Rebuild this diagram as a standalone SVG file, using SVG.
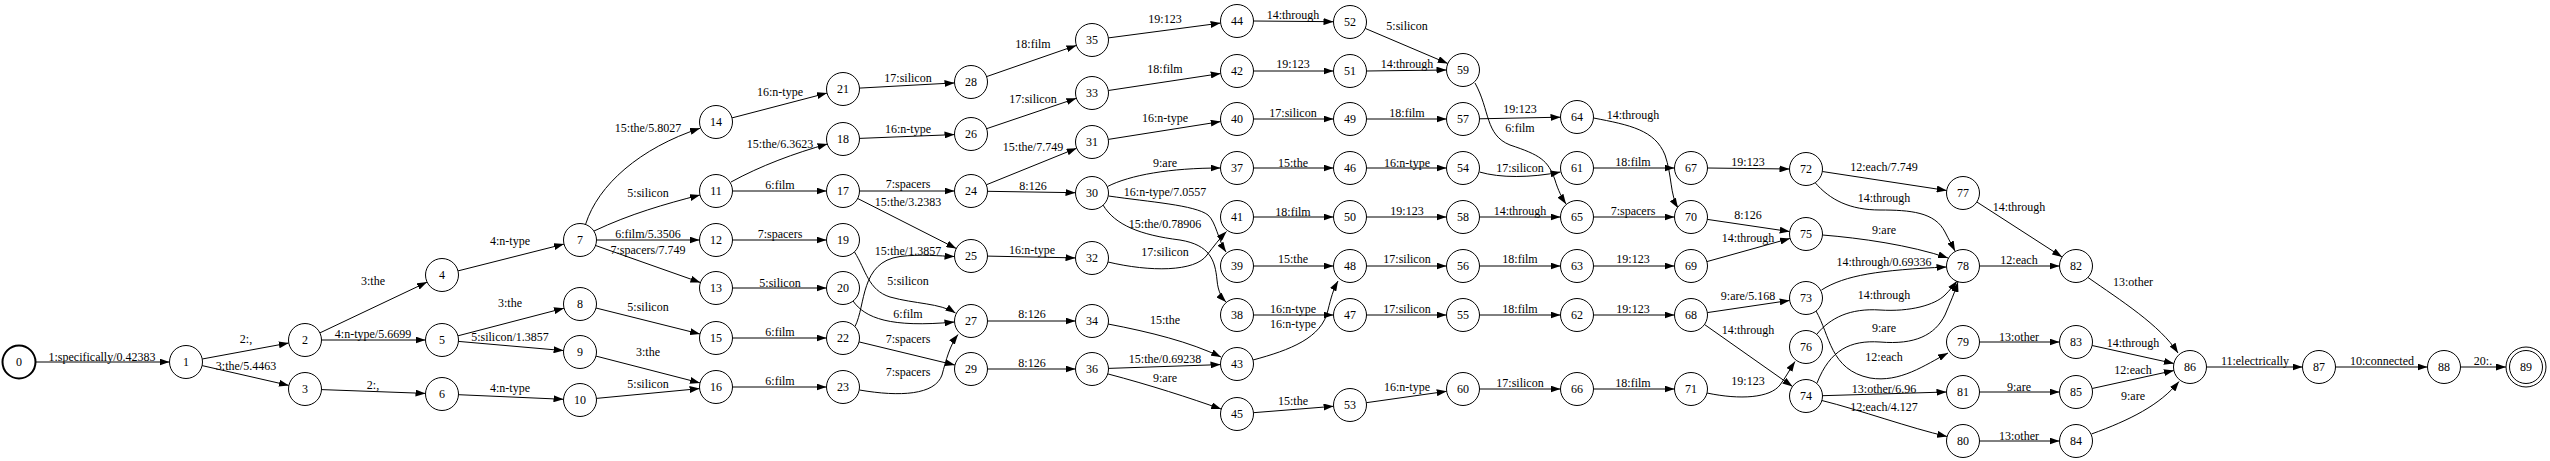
<svg xmlns="http://www.w3.org/2000/svg" width="2550" height="461" viewBox="0 0 2550 461">
<defs>
<marker id="a" markerWidth="10" markerHeight="7" refX="10" refY="3.5" orient="auto" markerUnits="userSpaceOnUse"><path d="M0,0 L10,3.5 L0,7 Z" fill="#000"/></marker>
<style>
text{font-family:"Liberation Serif","Times New Roman",serif;font-size:12px;fill:#000;text-anchor:middle}
.node circle{fill:#fff;stroke:#000;stroke-width:1}
#edges path{fill:none;stroke:#000;stroke-width:1;marker-end:url(#a)}
</style>
</defs>
<rect width="2550" height="461" fill="#fff"/>
<g id="edges">
<g><path d="M35.5,362 L169.5,362"/><text x="102" y="361">1:specifically/0.42383</text></g>
<g><path d="M202.2,359 L288.8,343"/><text x="246" y="343">2:,</text></g>
<g><path d="M202.1,365.6 L288.9,385.4"/><text x="246" y="370">3:the/5.4463</text></g>
<g><path d="M319.9,332.9 L427.1,282.1"/><text x="373" y="285">3:the</text></g>
<g><path d="M321.5,340 L425.5,340"/><text x="373" y="338">4:n-type/5.6699</text></g>
<g><path d="M321.5,389.6 L425.5,393.4"/><text x="373" y="389">2:,</text></g>
<g><path d="M458,270.9 L564,244.1"/><text x="510" y="245">4:n-type</text></g>
<g><path d="M458,335.8 L564,308.2"/><text x="510" y="307">3:the</text></g>
<g><path d="M458.4,341.4 L563.6,350.6"/><text x="510" y="341">5:silicon/1.3857</text></g>
<g><path d="M458.5,394.7 L563.5,399.3"/><text x="510" y="392">4:n-type</text></g>
<g><path d="M585.7,224 C598,185 640,148 700,128.3"/><text x="648" y="132">15:the/5.8027</text></g>
<g><path d="M594,231 C630,214 665,204 700,195"/><text x="648" y="197">5:silicon</text></g>
<g><path d="M596.5,240 L699.5,240"/><text x="648" y="238">6:film/5.3506</text></g>
<g><path d="M595.6,245.5 L700.4,282.5"/><text x="648" y="254">7:spacers/7.749</text></g>
<g><path d="M596,308 L700,334"/><text x="648" y="311">5:silicon</text></g>
<g><path d="M596,356.1 L700,382.9"/><text x="648" y="356">3:the</text></g>
<g><path d="M596.4,398.4 L699.6,388.6"/><text x="648" y="388">5:silicon</text></g>
<g><path d="M731,182 C760,166 795,153 827.5,144"/><text x="780" y="148">15:the/6.3623</text></g>
<g><path d="M732.5,191 L826.5,191"/><text x="780" y="189">6:film</text></g>
<g><path d="M732.5,240 L826.5,240"/><text x="780" y="238">7:spacers</text></g>
<g><path d="M732.5,288 L826.5,288"/><text x="780" y="287">5:silicon</text></g>
<g><path d="M732,117.9 L827,93.1"/><text x="780" y="96">16:n-type</text></g>
<g><path d="M732.5,338 L826.5,338"/><text x="780" y="336">6:film</text></g>
<g><path d="M732.5,387 L826.5,387"/><text x="780" y="385">6:film</text></g>
<g><path d="M859.5,191 L954.5,191"/><text x="908" y="188">7:spacers</text></g>
<g><path d="M857.7,198.5 L956.3,248.5"/><text x="908" y="206">15:the/3.2383</text></g>
<g><path d="M859.5,138.4 L954.5,134.6"/><text x="908" y="133">16:n-type</text></g>
<g><path d="M854.5,252 C866,270 868,290 890,297 C915,304 940,303 955.5,313"/><text x="908" y="285">5:silicon</text></g>
<g><path d="M853,301 C865,318 890,328 954.5,322"/><text x="908" y="318">6:film</text></g>
<g><path d="M855,326.5 C866,305 860,262 900,256.5 C920,254 940,256 954.5,256.5"/><text x="908" y="255">15:the/1.3857</text></g>
<g><path d="M859,341.9 L955,365.1"/><text x="908" y="343">7:spacers</text></g>
<g><path d="M859.5,390 C900,397 935,395 942,375 C946,360 950,345 958,334.5"/><text x="908" y="376">7:spacers</text></g>
<g><path d="M859.5,88.1 L954.5,82.9"/><text x="908" y="82">17:silicon</text></g>
<g><path d="M986.3,184.8 L1076.7,148.2"/><text x="1033" y="151">15:the/7.749</text></g>
<g><path d="M987.5,191.3 L1075.5,192.7"/><text x="1033" y="190">8:126</text></g>
<g><path d="M987.5,256.1 L1075.5,257.9"/><text x="1032" y="254">16:n-type</text></g>
<g><path d="M986.6,128.7 L1076.4,98.3"/><text x="1033" y="103">17:silicon</text></g>
<g><path d="M987.5,321 L1075.5,321"/><text x="1032" y="318">8:126</text></g>
<g><path d="M986.6,76.6 L1076.4,45.4"/><text x="1033" y="48">18:film</text></g>
<g><path d="M987.5,369 L1075.5,369"/><text x="1032" y="367">8:126</text></g>
<g><path d="M1107.5,186.5 C1130,175 1170,168 1220.5,168"/><text x="1165" y="167">9:are</text></g>
<g><path d="M1108.5,196 C1150,202 1195,205 1208,215 C1216,222 1218,240 1226,252"/><text x="1165" y="196">16:n-type/7.0557</text></g>
<g><path d="M1103,205 C1115,225 1140,235 1180,240 C1210,245 1215,260 1217,280 C1218,292 1222,298 1226,302"/><text x="1165" y="228">15:the/0.78906</text></g>
<g><path d="M1108.3,139.4 L1220.7,121.6"/><text x="1165" y="122">16:n-type</text></g>
<g><path d="M1108,262 C1150,272 1195,272 1207,255 C1214,246 1220,238 1226.5,231.5"/><text x="1165" y="256">17:silicon</text></g>
<g><path d="M1108.3,90.5 L1220.7,73.5"/><text x="1165" y="73">18:film</text></g>
<g><path d="M1108,324 C1150,332 1190,342 1221,357"/><text x="1165" y="324">15:the</text></g>
<g><path d="M1108.4,37.9 L1220.6,23.1"/><text x="1165" y="23">19:123</text></g>
<g><path d="M1108.5,368.4 L1220.5,364.6"/><text x="1165" y="363">15:the/0.69238</text></g>
<g><path d="M1107.8,373.9 C1150,385 1190,398 1221.2,409.1"/><text x="1165" y="382">9:are</text></g>
<g><path d="M1253.5,168 L1333.5,168"/><text x="1293" y="167">15:the</text></g>
<g><path d="M1253.5,315 L1333.5,315"/><text x="1293" y="313">16:n-type</text></g>
<g><path d="M1253.5,266 L1333.5,266"/><text x="1293" y="263">15:the</text></g>
<g><path d="M1253.5,119 L1333.5,119"/><text x="1293" y="117">17:silicon</text></g>
<g><path d="M1253.5,217 L1333.5,217"/><text x="1293" y="216">18:film</text></g>
<g><path d="M1253.5,71 L1333.5,71"/><text x="1293" y="68">19:123</text></g>
<g><path d="M1253,360 C1290,350 1322,338 1328,310 C1331,298 1333,290 1338,281"/><text x="1293" y="328">16:n-type</text></g>
<g><path d="M1253.5,21 L1333.5,21.7"/><text x="1293" y="19">14:through</text></g>
<g><path d="M1253.4,412.7 L1333.6,406.3"/><text x="1293" y="405">15:the</text></g>
<g><path d="M1366.5,168 L1446.5,168"/><text x="1407" y="167">16:n-type</text></g>
<g><path d="M1366.5,315 L1446.5,315"/><text x="1407" y="313">17:silicon</text></g>
<g><path d="M1366.5,266 L1446.5,266"/><text x="1407" y="263">17:silicon</text></g>
<g><path d="M1366.5,119 L1446.5,119"/><text x="1407" y="117">18:film</text></g>
<g><path d="M1366.5,217 L1446.5,217"/><text x="1407" y="215">19:123</text></g>
<g><path d="M1366.5,71 L1446.5,70"/><text x="1407" y="68">14:through</text></g>
<g><path d="M1365.2,28.4 L1447.8,63.5"/><text x="1407" y="30">5:silicon</text></g>
<g><path d="M1366.3,402.7 L1446.7,391.3"/><text x="1407" y="391">16:n-type</text></g>
<g><path d="M1479.5,172 C1500,178 1530,178 1560.5,172"/><text x="1520" y="172">17:silicon</text></g>
<g><path d="M1479.5,315 L1560.5,315"/><text x="1520" y="313">18:film</text></g>
<g><path d="M1479.5,266 L1560.5,266"/><text x="1520" y="263">18:film</text></g>
<g><path d="M1479.5,118.8 L1560.5,117.2"/><text x="1520" y="113">19:123</text></g>
<g><path d="M1479.5,217 L1560.5,217"/><text x="1520" y="215">14:through</text></g>
<g><path d="M1475,83 C1490,110 1485,135 1510,145 C1540,155 1548,160 1555,180 C1558,190 1562,198 1566,204"/><text x="1520" y="132">6:film</text></g>
<g><path d="M1479.5,389 L1560.5,389"/><text x="1520" y="387">17:silicon</text></g>
<g><path d="M1593.5,168 L1674.5,168"/><text x="1633" y="166">18:film</text></g>
<g><path d="M1593.5,315 L1674.5,315"/><text x="1633" y="313">19:123</text></g>
<g><path d="M1593.5,266 L1674.5,266"/><text x="1633" y="263">19:123</text></g>
<g><path d="M1593.5,118 C1630,125 1655,130 1665,155 C1672,175 1670,195 1678,208"/><text x="1633" y="119">14:through</text></g>
<g><path d="M1593.5,217 L1674.5,217"/><text x="1633" y="215">7:spacers</text></g>
<g><path d="M1593.5,389 L1674.5,389"/><text x="1633" y="387">18:film</text></g>
<g><path d="M1707.5,168 L1789.5,169"/><text x="1748" y="166">19:123</text></g>
<g><path d="M1707.3,219.4 L1789.7,231.6"/><text x="1748" y="219">8:126</text></g>
<g><path d="M1706.9,261.6 L1790.1,238.4"/><text x="1748" y="242">14:through</text></g>
<g><path d="M1707.3,312.6 L1789.7,300.4"/><text x="1748" y="300">9:are/5.168</text></g>
<g><path d="M1704.5,324.5 L1792.5,386.5"/><text x="1748" y="334">14:through</text></g>
<g><path d="M1707,393 C1740,400 1770,398 1780,385 C1786,377 1790,369 1795,361.5"/><text x="1748" y="385">19:123</text></g>
<g><path d="M1822.3,171.5 L1946.7,190.5"/><text x="1884" y="171">12:each/7.749</text></g>
<g><path d="M1815,182.5 C1830,200 1850,210 1880,210 C1910,210 1935,212 1945,232 C1949,240 1952,245 1955,251"/><text x="1884" y="202">14:through</text></g>
<g><path d="M1822.5,235 C1860,238 1910,245 1948,258"/><text x="1884" y="234">9:are</text></g>
<g><path d="M1821.5,290 C1845,275 1880,270 1946.5,267"/><text x="1884" y="266">14:through/0.69336</text></g>
<g><path d="M1817,334 C1830,318 1850,308 1880,310 C1910,312 1935,305 1945,295 C1950,290 1954,285 1957,281"/><text x="1884" y="299">14:through</text></g>
<g><path d="M1817,383 C1830,350 1850,340 1880,342 C1915,345 1935,335 1945,315 C1950,303 1955,292 1958,282"/><text x="1884" y="332">9:are</text></g>
<g><path d="M1816,311 C1830,335 1830,370 1870,378 C1900,383 1925,365 1948,353"/><text x="1884" y="361">12:each</text></g>
<g><path d="M1822.5,395.7 L1946.5,392"/><text x="1884" y="393">13:other/6.96</text></g>
<g><path d="M1821.9,400.5 C1860,410 1910,428 1947.1,436.5"/><text x="1884" y="411">12:each/4.127</text></g>
<g><path d="M1976.9,202 L2062.1,257"/><text x="2019" y="211">14:through</text></g>
<g><path d="M1979.5,266 L2059.5,266"/><text x="2019" y="264">12:each</text></g>
<g><path d="M1979.5,342 L2059.5,342"/><text x="2019" y="341">13:other</text></g>
<g><path d="M1979.5,392 L2059.5,392"/><text x="2019" y="391">9:are</text></g>
<g><path d="M1979.5,441 L2059.5,441"/><text x="2019" y="440">13:other</text></g>
<g><path d="M2088,277.5 C2120,300 2160,325 2178,353"/><text x="2133" y="286">13:other</text></g>
<g><path d="M2092.1,345.5 L2173.9,363.5"/><text x="2133" y="347">14:through</text></g>
<g><path d="M2092.1,388.5 L2173.9,370.5"/><text x="2133" y="374">12:each</text></g>
<g><path d="M2091.5,434 C2130,420 2160,405 2179,381.5"/><text x="2133" y="400">9:are</text></g>
<g><path d="M2206.5,367 L2302.5,367"/><text x="2255" y="365">11:electrically</text></g>
<g><path d="M2335.5,367 L2427.5,367"/><text x="2382" y="365">10:connected</text></g>
<g><path d="M2460.5,367 L2506,367"/><text x="2483" y="365">20:.</text></g>
</g>
<g id="nodes">
<g id="n0" class="node"><circle cx="19" cy="362" r="16.5" style="stroke-width:2"/><text x="19" y="366">0</text></g>
<g id="n1" class="node"><circle cx="186" cy="362" r="16.5"/><text x="186" y="366">1</text></g>
<g id="n2" class="node"><circle cx="305" cy="340" r="16.5"/><text x="305" y="344">2</text></g>
<g id="n3" class="node"><circle cx="305" cy="389" r="16.5"/><text x="305" y="393">3</text></g>
<g id="n4" class="node"><circle cx="442" cy="275" r="16.5"/><text x="442" y="279">4</text></g>
<g id="n5" class="node"><circle cx="442" cy="340" r="16.5"/><text x="442" y="344">5</text></g>
<g id="n6" class="node"><circle cx="442" cy="394" r="16.5"/><text x="442" y="398">6</text></g>
<g id="n7" class="node"><circle cx="580" cy="240" r="16.5"/><text x="580" y="244">7</text></g>
<g id="n8" class="node"><circle cx="580" cy="304" r="16.5"/><text x="580" y="308">8</text></g>
<g id="n9" class="node"><circle cx="580" cy="352" r="16.5"/><text x="580" y="356">9</text></g>
<g id="n10" class="node"><circle cx="580" cy="400" r="16.5"/><text x="580" y="404">10</text></g>
<g id="n11" class="node"><circle cx="716" cy="191" r="16.5"/><text x="716" y="195">11</text></g>
<g id="n12" class="node"><circle cx="716" cy="240" r="16.5"/><text x="716" y="244">12</text></g>
<g id="n13" class="node"><circle cx="716" cy="288" r="16.5"/><text x="716" y="292">13</text></g>
<g id="n14" class="node"><circle cx="716" cy="122" r="16.5"/><text x="716" y="126">14</text></g>
<g id="n15" class="node"><circle cx="716" cy="338" r="16.5"/><text x="716" y="342">15</text></g>
<g id="n16" class="node"><circle cx="716" cy="387" r="16.5"/><text x="716" y="391">16</text></g>
<g id="n17" class="node"><circle cx="843" cy="191" r="16.5"/><text x="843" y="195">17</text></g>
<g id="n18" class="node"><circle cx="843" cy="139" r="16.5"/><text x="843" y="143">18</text></g>
<g id="n19" class="node"><circle cx="843" cy="240" r="16.5"/><text x="843" y="244">19</text></g>
<g id="n20" class="node"><circle cx="843" cy="288" r="16.5"/><text x="843" y="292">20</text></g>
<g id="n21" class="node"><circle cx="843" cy="89" r="16.5"/><text x="843" y="93">21</text></g>
<g id="n22" class="node"><circle cx="843" cy="338" r="16.5"/><text x="843" y="342">22</text></g>
<g id="n23" class="node"><circle cx="843" cy="387" r="16.5"/><text x="843" y="391">23</text></g>
<g id="n24" class="node"><circle cx="971" cy="191" r="16.5"/><text x="971" y="195">24</text></g>
<g id="n25" class="node"><circle cx="971" cy="256" r="16.5"/><text x="971" y="260">25</text></g>
<g id="n26" class="node"><circle cx="971" cy="134" r="16.5"/><text x="971" y="138">26</text></g>
<g id="n27" class="node"><circle cx="971" cy="321" r="16.5"/><text x="971" y="325">27</text></g>
<g id="n28" class="node"><circle cx="971" cy="82" r="16.5"/><text x="971" y="86">28</text></g>
<g id="n29" class="node"><circle cx="971" cy="369" r="16.5"/><text x="971" y="373">29</text></g>
<g id="n30" class="node"><circle cx="1092" cy="193" r="16.5"/><text x="1092" y="197">30</text></g>
<g id="n31" class="node"><circle cx="1092" cy="142" r="16.5"/><text x="1092" y="146">31</text></g>
<g id="n32" class="node"><circle cx="1092" cy="258" r="16.5"/><text x="1092" y="262">32</text></g>
<g id="n33" class="node"><circle cx="1092" cy="93" r="16.5"/><text x="1092" y="97">33</text></g>
<g id="n34" class="node"><circle cx="1092" cy="321" r="16.5"/><text x="1092" y="325">34</text></g>
<g id="n35" class="node"><circle cx="1092" cy="40" r="16.5"/><text x="1092" y="44">35</text></g>
<g id="n36" class="node"><circle cx="1092" cy="369" r="16.5"/><text x="1092" y="373">36</text></g>
<g id="n37" class="node"><circle cx="1237" cy="168" r="16.5"/><text x="1237" y="172">37</text></g>
<g id="n38" class="node"><circle cx="1237" cy="315" r="16.5"/><text x="1237" y="319">38</text></g>
<g id="n39" class="node"><circle cx="1237" cy="266" r="16.5"/><text x="1237" y="270">39</text></g>
<g id="n40" class="node"><circle cx="1237" cy="119" r="16.5"/><text x="1237" y="123">40</text></g>
<g id="n41" class="node"><circle cx="1237" cy="217" r="16.5"/><text x="1237" y="221">41</text></g>
<g id="n42" class="node"><circle cx="1237" cy="71" r="16.5"/><text x="1237" y="75">42</text></g>
<g id="n43" class="node"><circle cx="1237" cy="364" r="16.5"/><text x="1237" y="368">43</text></g>
<g id="n44" class="node"><circle cx="1237" cy="21" r="16.5"/><text x="1237" y="25">44</text></g>
<g id="n45" class="node"><circle cx="1237" cy="414" r="16.5"/><text x="1237" y="418">45</text></g>
<g id="n46" class="node"><circle cx="1350" cy="168" r="16.5"/><text x="1350" y="172">46</text></g>
<g id="n47" class="node"><circle cx="1350" cy="315" r="16.5"/><text x="1350" y="319">47</text></g>
<g id="n48" class="node"><circle cx="1350" cy="266" r="16.5"/><text x="1350" y="270">48</text></g>
<g id="n49" class="node"><circle cx="1350" cy="119" r="16.5"/><text x="1350" y="123">49</text></g>
<g id="n50" class="node"><circle cx="1350" cy="217" r="16.5"/><text x="1350" y="221">50</text></g>
<g id="n51" class="node"><circle cx="1350" cy="71" r="16.5"/><text x="1350" y="75">51</text></g>
<g id="n52" class="node"><circle cx="1350" cy="22" r="16.5"/><text x="1350" y="26">52</text></g>
<g id="n53" class="node"><circle cx="1350" cy="405" r="16.5"/><text x="1350" y="409">53</text></g>
<g id="n54" class="node"><circle cx="1463" cy="168" r="16.5"/><text x="1463" y="172">54</text></g>
<g id="n55" class="node"><circle cx="1463" cy="315" r="16.5"/><text x="1463" y="319">55</text></g>
<g id="n56" class="node"><circle cx="1463" cy="266" r="16.5"/><text x="1463" y="270">56</text></g>
<g id="n57" class="node"><circle cx="1463" cy="119" r="16.5"/><text x="1463" y="123">57</text></g>
<g id="n58" class="node"><circle cx="1463" cy="217" r="16.5"/><text x="1463" y="221">58</text></g>
<g id="n59" class="node"><circle cx="1463" cy="70" r="16.5"/><text x="1463" y="74">59</text></g>
<g id="n60" class="node"><circle cx="1463" cy="389" r="16.5"/><text x="1463" y="393">60</text></g>
<g id="n61" class="node"><circle cx="1577" cy="168" r="16.5"/><text x="1577" y="172">61</text></g>
<g id="n62" class="node"><circle cx="1577" cy="315" r="16.5"/><text x="1577" y="319">62</text></g>
<g id="n63" class="node"><circle cx="1577" cy="266" r="16.5"/><text x="1577" y="270">63</text></g>
<g id="n64" class="node"><circle cx="1577" cy="117" r="16.5"/><text x="1577" y="121">64</text></g>
<g id="n65" class="node"><circle cx="1577" cy="217" r="16.5"/><text x="1577" y="221">65</text></g>
<g id="n66" class="node"><circle cx="1577" cy="389" r="16.5"/><text x="1577" y="393">66</text></g>
<g id="n67" class="node"><circle cx="1691" cy="168" r="16.5"/><text x="1691" y="172">67</text></g>
<g id="n68" class="node"><circle cx="1691" cy="315" r="16.5"/><text x="1691" y="319">68</text></g>
<g id="n69" class="node"><circle cx="1691" cy="266" r="16.5"/><text x="1691" y="270">69</text></g>
<g id="n70" class="node"><circle cx="1691" cy="217" r="16.5"/><text x="1691" y="221">70</text></g>
<g id="n71" class="node"><circle cx="1691" cy="389" r="16.5"/><text x="1691" y="393">71</text></g>
<g id="n72" class="node"><circle cx="1806" cy="169" r="16.5"/><text x="1806" y="173">72</text></g>
<g id="n73" class="node"><circle cx="1806" cy="298" r="16.5"/><text x="1806" y="302">73</text></g>
<g id="n74" class="node"><circle cx="1806" cy="396" r="16.5"/><text x="1806" y="400">74</text></g>
<g id="n75" class="node"><circle cx="1806" cy="234" r="16.5"/><text x="1806" y="238">75</text></g>
<g id="n76" class="node"><circle cx="1806" cy="347" r="16.5"/><text x="1806" y="351">76</text></g>
<g id="n77" class="node"><circle cx="1963" cy="193" r="16.5"/><text x="1963" y="197">77</text></g>
<g id="n78" class="node"><circle cx="1963" cy="266" r="16.5"/><text x="1963" y="270">78</text></g>
<g id="n79" class="node"><circle cx="1963" cy="342" r="16.5"/><text x="1963" y="346">79</text></g>
<g id="n80" class="node"><circle cx="1963" cy="441" r="16.5"/><text x="1963" y="445">80</text></g>
<g id="n81" class="node"><circle cx="1963" cy="392" r="16.5"/><text x="1963" y="396">81</text></g>
<g id="n82" class="node"><circle cx="2076" cy="266" r="16.5"/><text x="2076" y="270">82</text></g>
<g id="n83" class="node"><circle cx="2076" cy="342" r="16.5"/><text x="2076" y="346">83</text></g>
<g id="n84" class="node"><circle cx="2076" cy="441" r="16.5"/><text x="2076" y="445">84</text></g>
<g id="n85" class="node"><circle cx="2076" cy="392" r="16.5"/><text x="2076" y="396">85</text></g>
<g id="n86" class="node"><circle cx="2190" cy="367" r="16.5"/><text x="2190" y="371">86</text></g>
<g id="n87" class="node"><circle cx="2319" cy="367" r="16.5"/><text x="2319" y="371">87</text></g>
<g id="n88" class="node"><circle cx="2444" cy="367" r="16.5"/><text x="2444" y="371">88</text></g>
<g id="n89" class="node"><circle cx="2526" cy="367" r="20"/><circle cx="2526" cy="367" r="16.5"/><text x="2526" y="371">89</text></g>
</g>
</svg>
